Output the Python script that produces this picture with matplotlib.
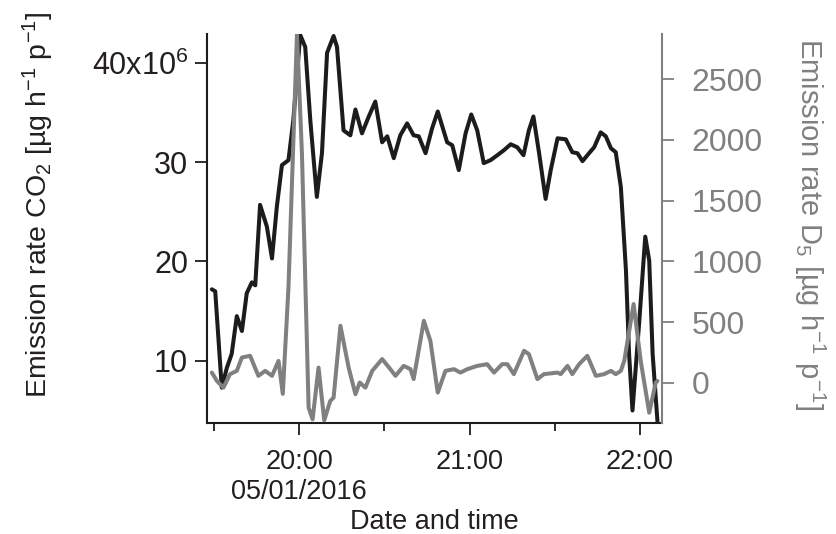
import datetime as dt
import matplotlib
matplotlib.use("Agg")
import matplotlib.pyplot as plt
import matplotlib.dates as mdates
from matplotlib.ticker import FixedLocator, FuncFormatter

plt.rcParams['font.family'] = ['Liberation Sans', 'DejaVu Sans']
plt.rcParams['mathtext.fontset'] = 'custom'
plt.rcParams['mathtext.rm'] = 'Liberation Sans'
plt.rcParams['mathtext.it'] = 'Liberation Sans:italic'
plt.rcParams['mathtext.bf'] = 'Liberation Sans:bold'

# ---- data (minutes relative to 20:00 on 05/01/2016) ----
co2_minutes = [-30.8, -29.6, -27.3, -25.5, -23.8, -22.0, -20.2, -18.5, -16.7, -15.5,
               -13.8, -11.4, -9.6, -7.9, -6.1, -3.8, -2.1, 0.35, 2.1, 3.9,
               6.2, 8.0, 9.8, 12.1, 13.3, 15.6, 18.0, 19.8, 22.1, 24.5,
               26.8, 29.2, 31.0, 33.3, 35.6, 38.0, 40.3, 42.1, 44.5, 46.8,
               48.8, 52.1, 53.9, 56.2, 58.6, 60.6, 62.7, 65.0, 67.4, 69.8,
               72.1, 74.5, 76.8, 79.0, 80.9, 82.5, 84.5, 86.8, 88.6, 91.0,
               93.9, 96.2, 98.0, 99.8, 102.1, 103.9, 106.2, 108.0, 109.8, 111.5,
               113.3, 115.1, 116.2, 117.4, 119.8, 121.9, 123.3, 124.5, 126.2]
co2_values = [17.2, 17.0, 7.3, 9.3, 10.7, 14.5, 13.0, 16.8, 17.9, 17.6,
              25.7, 23.5, 20.3, 25.5, 29.7, 30.2, 34.2, 42.8, 41.6, 34.2,
              26.5, 30.9, 41.0, 42.7, 41.6, 33.2, 32.7, 35.3, 32.9, 34.6,
              36.1, 32.0, 32.6, 30.4, 32.7, 33.9, 32.7, 32.6, 30.9, 33.4,
              35.1, 32.0, 31.7, 29.2, 32.9, 34.8, 33.2, 29.9, 30.2, 30.7,
              31.2, 31.8, 31.5, 30.7, 33.2, 34.6, 30.9, 26.3, 29.2, 32.4,
              32.3, 31.0, 30.9, 30.1, 30.9, 31.5, 33.0, 32.6, 31.4, 31.0,
              27.5, 19.1, 10.7, 5.0, 14.0, 22.5, 20.1, 10.7, 3.9]  # x10^6

d5_minutes = [-30.8, -29.0, -26.7, -24.4, -22.0, -20.2, -17.3, -14.4, -12.0, -9.6,
              -7.3, -5.8, -3.8, -0.8, 0.95, 3.3, 4.7, 6.8, 8.8, 10.9,
              12.1, 14.5, 17.4, 19.8, 21.3, 23.3, 25.7, 29.2, 32.1, 33.9,
              36.8, 39.2, 40.3, 43.9, 46.2, 48.8, 51.5, 54.5, 56.8, 59.2,
              62.7, 66.2, 68.6, 71.5, 73.3, 75.6, 79.2, 80.9, 83.9, 86.2,
              91.0, 92.1, 94.5, 96.2, 98.6, 101.5, 104.5, 107.4, 109.8, 111.5,
              113.3, 114.5, 117.8, 120.3, 123.3, 125.6, 126.2]
d5_values = [85, 16, -39, 72, 99, 209, 223, 58, 99, 58,
             181, -90, 786, 2870, 1887, -204, -300, 126, -308, -149,
             -121, 470, 126, -93, 3, -39, 99, 196, 113, 58,
             140, 113, 31, 511, 346, -80, 99, 113, 85, 113,
             140, 154, 85, 154, 154, 72, 264, 237, 31, 72,
             85, 72, 140, 72, 154, 223, 58, 72, 99, 72,
             99, 181, 649, 181, -245, 3, 16]

co2_ticks = [10, 20, 30, 40]
d5_ticks = [0, 500, 1000, 1500, 2000, 2500]

base = dt.datetime(2016, 1, 5, 20, 0)
co2_t = [base + dt.timedelta(minutes=m) for m in co2_minutes]
d5_t = [base + dt.timedelta(minutes=m) for m in d5_minutes]

BLACK = '#1c1c1c'
GRAY = '#808082'
TXT = '#231f20'

fig = plt.figure(figsize=(8.37, 5.34), dpi=100)
ax = fig.add_axes([207/837, 111/534, 455/837, 389/534])
ax2 = ax.twinx()

ax.plot(co2_t, co2_values, color=BLACK, lw=2.9, solid_joinstyle='round', solid_capstyle='round')
ax2.plot(d5_t, d5_values, color=GRAY, lw=2.9, solid_joinstyle='round', solid_capstyle='round')

ax.set_xlim(base + dt.timedelta(minutes=-32.5), base + dt.timedelta(minutes=127.8))
ax.set_ylim(3.74, 42.9)
ax2.set_ylim(-330, 2871)

# spines
for a in (ax, ax2):
    a.spines['top'].set_visible(False)
ax.spines['right'].set_visible(False)
ax2.spines['left'].set_visible(False)
ax2.spines['bottom'].set_visible(False)
ax.spines['left'].set_color(BLACK)
ax.spines['bottom'].set_color(BLACK)
ax.spines['left'].set_linewidth(1.5)
ax.spines['bottom'].set_linewidth(1.5)
ax2.spines['right'].set_color(GRAY)
ax2.spines['right'].set_linewidth(1.5)

# x ticks
ax.xaxis.set_major_locator(mdates.HourLocator())
ax.xaxis.set_minor_locator(mdates.MinuteLocator(byminute=[30]))

def fmt_time(x, pos):
    d = mdates.num2date(x)
    s = d.strftime('%H:%M')
    if d.hour == 20:
        s += '\n' + d.strftime('%d/%m/%Y')
    return s

ax.xaxis.set_major_formatter(FuncFormatter(fmt_time))
ax.tick_params(axis='x', which='major', direction='out', length=8.5, width=1.3,
               colors=BLACK, labelsize=19.5, pad=10, labelcolor=TXT)
ax.tick_params(axis='x', which='minor', direction='out', length=6, width=1.3, colors=BLACK)
fig.canvas.draw()
for lab in ax.get_xticklabels():
    lab.set_linespacing(1.2)

# left y ticks
ax.yaxis.set_major_locator(FixedLocator(co2_ticks))
ax.yaxis.set_major_formatter(FuncFormatter(
    lambda v, p: r'40x10$^{6}$' if abs(v - 40) < 1e-6 else f'{int(v)}'))
ax.tick_params(axis='y', direction='out', length=8.5, width=1.3, colors=BLACK,
               labelsize=22, pad=5, labelcolor=TXT)

# right y ticks
ax2.yaxis.set_major_locator(FixedLocator(d5_ticks))
ax2.tick_params(axis='y', direction='out', length=8.5, width=1.3, colors=GRAY,
                labelsize=23, pad=13, labelcolor=GRAY)

ax.set_xlabel('Date and time', fontsize=19.5, color=TXT, va='baseline')
ax.xaxis.set_label_coords(0.5, -0.272)

ax.set_ylabel(r'Emission rate CO$_2$ [µg h$^{-1}$ p$^{-1}$]', fontsize=20.5, color=TXT,
              va='center')
ax.yaxis.set_label_coords(-0.37, 0.56)
ax2.set_ylabel(r'Emission rate D$_5$ [µg h$^{-1}$ p$^{-1}$]', fontsize=21, color=GRAY,
               rotation=270, va='center')
ax2.yaxis.set_label_coords(1.325, 0.512)

fig.savefig('out.png', dpi=100)
